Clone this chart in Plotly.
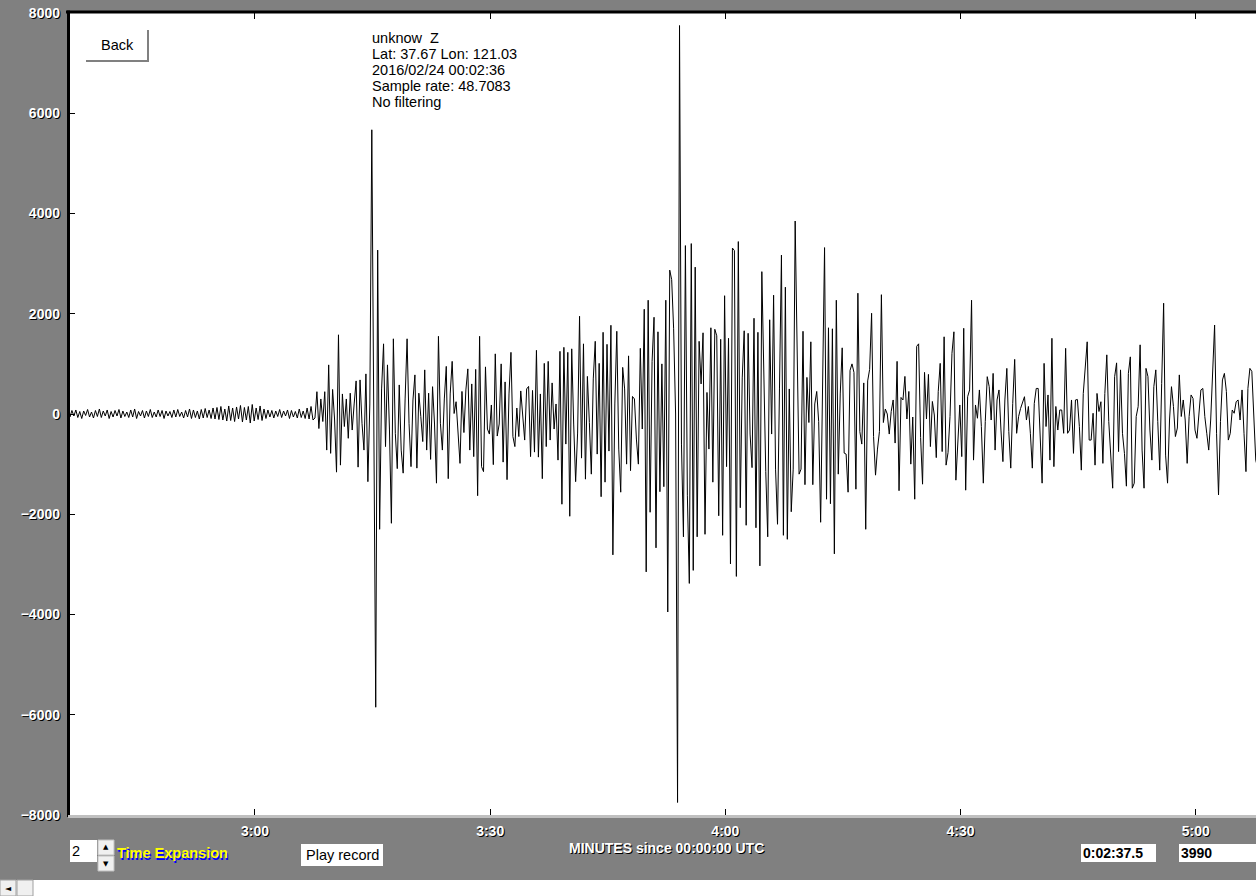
import numpy as np
import plotly.graph_objects as go

# sample grid of the trace (seconds since 00:00:00 UTC)
T0 = 156.15
DT = 0.25

# vertical counts
quiet = [30, -60, 70, -40, 80, -70, 50, -90, 60, -30, 90, -60, 40, -80, 70, -50, 100, -70, 60, -40,
         80, -90, 50, -60, 70, -40, 90, -80, 60, -50, 40, -70, 80, -60, 100, -90, 50, -40, 70, -80,
         60, -50, 90, -70, 40, -60, 80, -50, 70, -90, 60, -40, 50, -70, 80, -60, 90, -50, 40, -80,
         70, -60, 100, -90, 80, -70, 60, -100, 90, -80, 110, -70, 80, -90, 120, -100,
         130, -110, 150, -120, 100, -140, 160, -130, 120, -150, 140, -100, 170, -160, 130, -120,
         150, -180, 190, -140, 120, -110, 160, -130, 100,
         -90, 80, -60, 70, -80, 60, -50, 90, -70, 60, -40, 80, -90, 70, -60, 50, -80, 100, -70, 60,
         -90, 120, -100, 150, -120]

p_wave = [-80, 445, -290, 300, -150, 445, -720, 980, -785, 490,
          -100, -1160, 1580, -1020, 400, -250, 300, -485, 415, -320,
          200, 660, -1060, 680, -185, -720, 800, -1350, 200, 5670,
          0, -5850, 3270, -2300, 500, 1400, -650, 980, -300, -2180,
          1500, -385, -1090, 580, -720, -1180, 300, 1500, -185, -1050,
          280, 780, -1080, 415, -50, -550, 880, -720, 415, -905,
          545, -200, -1380, 1550, -185, -720, 300, 950, -1290, 400,
          1050, 10, 245, -360, -985]

s_wave = [450, -370, 480, 900, -720, 600, -850, 890, -1630, 1550,
          -1050, -1150, 940, -300, -400, 180, -1010, 1200, -440, -200,
          1000, -960, 640, -1310, 400, 1230, -450, -650, 120, -450,
          460, -100, -520, 500, 550, -850, 470, -760, 1270, -860,
          400, -1290, 1010, -650, 1050, -520, 620, -300, 200, -920,
          1250, -1800, 1330, -600, 1230, -2040, 1300, -200, -1350, -380,
          1950, -880, 1400, -1300, 750, -170, -1200, 700, 1450, -800,
          1010, -1650, 1630, -1360, 1390, -740, 1770, -2810, 200, 1650,
          -700]

main_phase = [-1560, 930, 500, -1000, 1160, -1130, 350, 300, -500, -1000,
              1310, -300, 2090, -3150, 2270, -1960, 1050, 1930, -2670, 1640,
              -1550, 1000, -1450, 2270, -3950, 2870, 2680, 1700, 0, -7750,
              7750, -600, -2450, 3360, -1620, -3380, 3400, -3120, 2930, -2450,
              1450, 600, 1620, -2400, 430, -700, 1720, -1360, 1690, 1560,
              -2030, 1490, -2420, 2360, -1050, 1510, -2990, 3310, 3260, -3240,
              3440, -1870, 720, 1660, -2220, 1610, -400, -1070, 1910, -2270,
              1630, -3030, 2840, 600, -1150, -2450, 1880, -400, 2370, -1100,
              -2200, 500]

coda_a = [3170, -2420, 2530, -2500, 500, -1950, -1100, 3850, 1480, -1200,
          -1100, 1650, -1410, 730, -170, 1440, -1410, 200, 450, -150,
          -2160, 1200, 3320, -1700, 1720, -1790, 1700, -2790, 2270, -1200,
          400, 1320, -780, -800, -1560, 870, 1000, 830, -1500, 2410,
          -350, -600, 620, -2300, 660, 890, 2010, -450, -1220, -700,
          -350, 2380, -170, 100, 0, -400, 50, 280, -580, 1050,
          -1530, 330, 280, 750, -100, 450, -1000, -60, -1700, 1350,
          1400, -470, -1400, 830, -100, 790, -650, 250, -20, -870,
          450]

coda_b = [1010, -750, 1540, -1020, -770, -50, 1210, 1640, -1320, -450, 180, -850, 1710,
          -1520, 345, 480, 2270, -920, 180, -85, 480, -250, -1380, -150, 745, 545,
          -120, 810, -720, 280, 480, -320, -950, 280, 910, -350, -1080, 210, 1090,
          -385, -50, 110, 245, 345, -120, 150, -385, -1080, 210, 510, 510,
          -520, -1380, 1010, -250, 380, -920, 1510, -1050, 150, -320, 80, 80, -385,
          1310, -385, -320, 280, -785, 280, 290, -250, -1120, 410, 1040, 1440, -520,
          -520, 15, -1020, 410, 50, 245, -985, 410, 1180, -150, -850, -1480, 745,
          1020, -750, 880, -385, -785, -1440, 810, 1140, -1480, -1380, -50, 150,
          1380, -720, -1480, 910, 745, -320, -920, 545, 880, -150, -1120, 610, 2210,
          -820, -1380, -120, 545, 150, -450, -280, 780, -50, 280, -120, -985, -50,
          380, 310, -320, -485, -50, 480, 510, -50, -385, -720, -120, 810, 1775,
          -385, -1615, -150, 680, 810, 450, -520, -385, 80, 15, 245, 280, -120,
          480, -385, -1150, 510, 910, 850, -50, -920, -1080]

y_ticks = [-8000, -6000, -4000, -2000, 0, 2000, 4000, 6000, 8000]
x_ticks = [180, 210, 240, 270, 300]
x_labels = ["3:00", "3:30", "4:00", "4:30", "5:00"]

info_lines = ["unknow  Z", "Lat: 37.67 Lon: 121.03", "2016/02/24 00:02:36",
              "Sample rate: 48.7083", "No filtering"]

counts = np.array(quiet + p_wave + s_wave + main_phase + coda_a + coda_b, dtype=float)
t = T0 + DT * np.arange(len(counts))

W, H = 1256, 896
L, R, T, B = 68, 1256, 13, 815


def fx(px):
    return (px - L) / (R - L)


def fy(py):
    return (B - py) / (B - T)


FONT = "Liberation Sans, Arial, sans-serif"
LABEL_FONT = dict(family=FONT, size=14, color="white", weight="bold",
                  shadow="1px 1px 0px #000000")
PLAIN = dict(family=FONT, size=14.5, color="black")

fig = go.Figure()
fig.add_trace(go.Scatter(x=t, y=counts, mode="lines",
                         line=dict(color="black", width=1),
                         hoverinfo="skip"))

shapes = []
annos = []


def box(x0, y0, x1, y1, fill="white", line=None):
    shapes.append(dict(type="rect", xref="paper", yref="paper",
                       x0=fx(x0), x1=fx(x1), y0=fy(y1), y1=fy(y0),
                       fillcolor=fill, line=line or dict(width=0), layer="above"))


def hline(x0, x1, y, color, w):
    shapes.append(dict(type="line", xref="paper", yref="paper",
                       x0=fx(x0), x1=fx(x1), y0=fy(y), y1=fy(y),
                       line=dict(color=color, width=w), layer="above"))


def vline(x, y0, y1, color, w):
    shapes.append(dict(type="line", xref="paper", yref="paper",
                       x0=fx(x), x1=fx(x), y0=fy(y0), y1=fy(y1),
                       line=dict(color=color, width=w), layer="above"))


def text(s, x, y, anchor="left", font=None):
    annos.append(dict(text=s, xref="paper", yref="paper", x=fx(x), y=fy(y),
                      xanchor=anchor, yanchor="middle", showarrow=False,
                      font=font or PLAIN))


# frame
hline(66, R, 12, "black", 3)
vline(68.5, 10.5, 817, "black", 3)
hline(68, R, 816.5, "#c0c0c0", 3)

# Back button
box(86, 30, 149, 62)
vline(148, 30, 62, "#808080", 2)
hline(86, 149, 61, "#808080", 2)
text("Back", 117.5, 45, "center")

# station info
for i, s in enumerate(info_lines):
    text(s, 370, 38 + 16 * i)

# x axis title
text("MINUTES since 00:00:00 UTC", 666, 848, "center", LABEL_FONT)

# time expansion spinner
box(70, 840, 97, 862)
text("2", 70, 851, "left", PLAIN)
box(98, 840, 114, 855, "#f0f0f0", dict(color="#c0c0c0", width=1))
box(98, 856, 114, 871, "#f0f0f0", dict(color="#c0c0c0", width=1))
text("▲", 106, 847, "center", dict(family="DejaVu Sans", size=7, color="black"))
text("▼", 106, 864, "center", dict(family="DejaVu Sans", size=7, color="black"))
text("Time Expansion", 115, 853, "left",
     dict(family=FONT, size=14.5, color="#ffff00", weight="bold",
          shadow="1px 2px 0px #0000ff"))

# play record
box(301, 844, 383, 866)
text("Play record", 342, 855, "center")

# time / sample boxes
box(1081, 844, 1156, 862)
text("0:02:37.5", 1081, 853, "left",
     dict(family=FONT, size=14, color="black", weight="bold"))
box(1179, 844, 1256, 862)
text("3990", 1179, 853, "left",
     dict(family=FONT, size=14, color="black", weight="bold"))

# scrollbar strip
box(0, 880, 1256, 896, "#ffffff")
box(0, 880, 16, 896, "#f0f0f0", dict(color="#a0a0a0", width=1))
box(17, 880, 33, 896, "#f0f0f0", dict(color="#a0a0a0", width=1))
text("◄", 8, 888, "center", dict(family="DejaVu Sans", size=8, color="black"))

fig.update_layout(
    width=W, height=H,
    margin=dict(l=L, r=W - R, t=T, b=H - B),
    paper_bgcolor="#808080",
    plot_bgcolor="white",
    showlegend=False,
    shapes=shapes,
    annotations=annos,
    xaxis=dict(range=[T0, T0 + DT * (R - L) / 1.96], tickvals=x_ticks, ticktext=x_labels,
               ticks="inside", ticklen=6, tickcolor="black", mirror="ticks",
               showline=False, showgrid=False, zeroline=False,
               tickfont=LABEL_FONT, ticklabelstandoff=6, fixedrange=True),
    yaxis=dict(range=[-8000, 8000], tickvals=y_ticks,
               ticks="inside", ticklen=7, tickcolor="black",
               showline=False, showgrid=False, zeroline=False,
               tickfont=LABEL_FONT, ticklabelstandoff=7, fixedrange=True),
)

fig.write_html("out.html", config={"displayModeBar": False},
               post_script="document.body.style.margin='0';document.body.style.overflow='hidden';")
